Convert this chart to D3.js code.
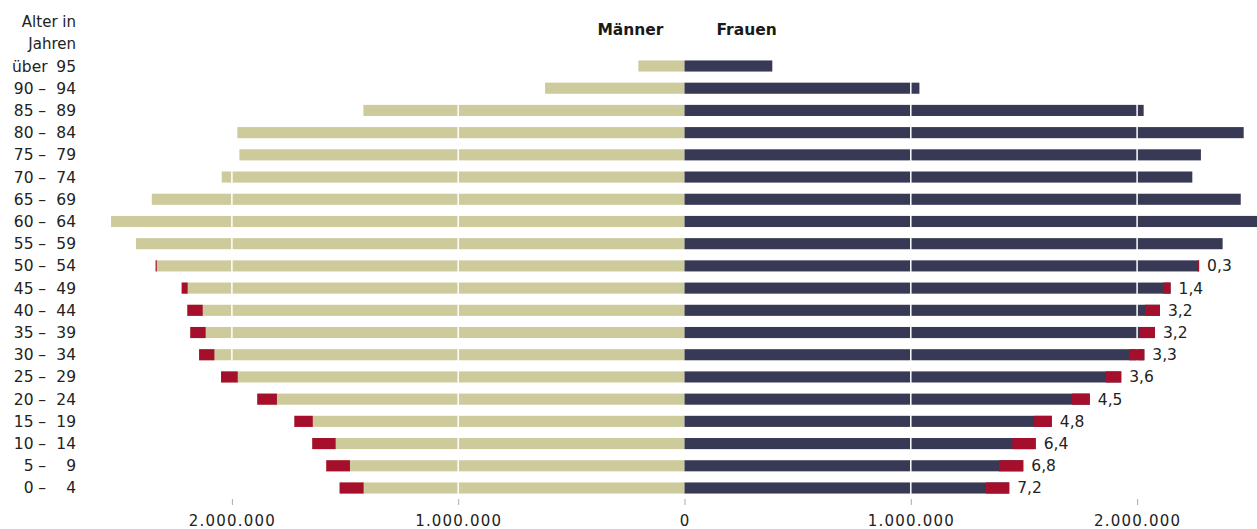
<!DOCTYPE html>
<html>
<head>
<meta charset="utf-8">
<script src="https://cdn.jsdelivr.net/npm/d3@7"></script>
<style>
  html, body { margin: 0; padding: 0; background: #fff; }
  svg { display: block; font-family: "DejaVu Sans", sans-serif; }
</style>
</head>
<body>
<svg id="chart" width="1257" height="529"></svg>
<script>
// ---- data (top row first) ----
const ageFrom = ["über", "90", "85", "80", "75", "70", "65", "60", "55", "50", "45", "40", "35", "30", "25", "20", "15", "10", "5", "0"];
const ageTo   = ["95", "94", "89", "84", "79", "74", "69", "64", "59", "54", "49", "44", "39", "34", "29", "24", "19", "14", "9", "4"];
// total men / women per age group
const menTotal   = [204000, 616000, 1419000, 1976000, 1967000, 2045000, 2354000, 2534000, 2424000, 2337000, 2222000, 2197000, 2184000, 2145000, 2048000, 1888000, 1724000, 1645000, 1583000, 1524000];
const womenTotal = [388000, 1038000, 2029000, 2471000, 2282000, 2244000, 2458000, 2545000, 2378000, 2274000, 2148000, 2101000, 2079000, 2032000, 1930000, 1791000, 1623000, 1552000, 1497000, 1435000];
// red share (outer part of each bar)
const menRed   = [0, 0, 0, 0, 0, 0, 0, 0, 0, 5000, 26500, 68000, 68000, 67600, 73800, 87000, 81300, 103400, 104700, 106000];
const womenRed = [0, 0, 0, 0, 0, 0, 0, 0, 0, 7000, 32700, 66300, 69400, 67600, 68900, 79500, 78200, 103400, 107400, 103000];
// percentage labels (null = none)
const pctLabel = [null, null, null, null, null, null, null, null, null, 0.3, 1.4, 3.2, 3.2, 3.3, 3.6, 4.5, 4.8, 6.4, 6.8, 7.2];
const tickValues = [-2000000, -1000000, 0, 1000000, 2000000];
const gridValues = [-2000000, -1000000, 1000000, 2000000];

// ---- style ----
const colMen = "#cdcb9b", colWomen = "#383a55", colRed = "#a60f2b";

const de = d3.formatLocale({decimal: ",", thousands: ".", grouping: [3], currency: ["", " €"]});
const fmtTick = v => de.format(",")(Math.abs(v));
const fmtPct = de.format(".1f");

const svg = d3.select("#chart");
const rows = ageFrom.map((f, i) => ({
  i, from: f, to: ageTo[i],
  men: menTotal[i], menRed: menRed[i],
  women: womenTotal[i], womenRed: womenRed[i],
  pct: pctLabel[i]
}));

const x = d3.scaleLinear()
  .domain([-1000000, 1000000])
  .range([684.5 - 226.3, 684.5 + 226.3]);

const y = d3.scaleBand()
  .domain(rows.map(d => d.i))
  .range([54.9, 499.1])
  .paddingInner(0.5)
  .paddingOuter(0.25);
const bh = y.bandwidth();

// men / women base bars
const g = svg.append("g");
g.selectAll("rect.men").data(rows).join("rect")
  .attr("x", d => x(-d.men)).attr("y", d => y(d.i))
  .attr("width", d => x(0) - x(-d.men)).attr("height", bh)
  .attr("fill", colMen);
g.selectAll("rect.women").data(rows).join("rect")
  .attr("x", x(0)).attr("y", d => y(d.i))
  .attr("width", d => x(d.women) - x(0)).attr("height", bh)
  .attr("fill", colWomen);

// white gridlines (over base bars, under red parts)
svg.append("g").selectAll("line").data(gridValues).join("line")
  .attr("x1", d => x(d)).attr("x2", d => x(d))
  .attr("y1", y.range()[0]).attr("y2", y.range()[1] - 4)
  .attr("stroke", "#fff").attr("stroke-width", 1.5);

// red parts
const r = svg.append("g");
r.selectAll("rect.menred").data(rows.filter(d => d.menRed > 0)).join("rect")
  .attr("x", d => x(-d.men)).attr("y", d => y(d.i))
  .attr("width", d => x(0) - x(-d.menRed)).attr("height", bh)
  .attr("fill", colRed);
r.selectAll("rect.womenred").data(rows.filter(d => d.womenRed > 0)).join("rect")
  .attr("x", d => x(d.women - d.womenRed)).attr("y", d => y(d.i))
  .attr("width", d => x(d.womenRed) - x(0)).attr("height", bh)
  .attr("fill", colRed);

// percentage labels
svg.append("g").selectAll("text").data(rows.filter(d => d.pct != null)).join("text")
  .attr("x", d => x(d.women) + 8)
  .attr("y", d => y(d.i) + bh / 2 + 5.5)
  .attr("font-size", 15.5).attr("fill", "#222")
  .text(d => fmtPct(d.pct));

// row labels
const lab = svg.append("g").attr("font-size", 15.5).attr("fill", "#222");
rows.forEach(d => {
  const yy = y(d.i) + bh / 2 + 5.5;
  if (d.from === "über") {
    lab.append("text").attr("x", 12).attr("y", yy).text(d.from);
  } else {
    lab.append("text").attr("x", 33.5).attr("y", yy).attr("text-anchor", "end").text(d.from);
    lab.append("text").attr("x", 42).attr("y", yy).attr("text-anchor", "middle").text("–");
  }
  lab.append("text").attr("x", 76).attr("y", yy).attr("text-anchor", "end").text(d.to);
});
// header
lab.append("text").attr("x", 76).attr("y", 26.7).attr("text-anchor", "end").attr("font-size", 15).text("Alter in");
lab.append("text").attr("x", 76).attr("y", 48.7).attr("text-anchor", "end").attr("font-size", 15).text("Jahren");
svg.append("text").attr("x", 663.5).attr("y", 35).attr("text-anchor", "end")
  .attr("font-size", 15.5).attr("font-weight", "bold").attr("fill", "#1a1a1a").text("Männer");
svg.append("text").attr("x", 716.5).attr("y", 35)
  .attr("font-size", 15.5).attr("font-weight", "bold").attr("fill", "#1a1a1a").text("Frauen");

// bottom axis
const axis = d3.axisBottom(x).tickValues(tickValues).tickFormat(fmtTick).tickSize(6).tickPadding(10);
const ax = svg.append("g").attr("transform", "translate(0,499)").call(axis);
ax.select(".domain").remove();
ax.selectAll(".tick line").attr("stroke", "#aaa");
ax.selectAll(".tick text").attr("font-family", "DejaVu Sans, sans-serif")
  .attr("font-size", 15).attr("letter-spacing", 1.2).attr("fill", "#222");
</script>
</body>
</html>
